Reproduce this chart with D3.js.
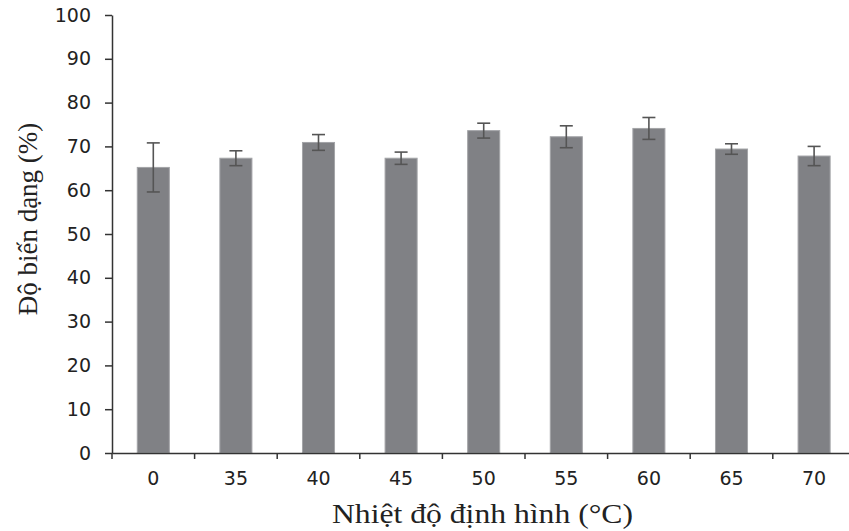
<!DOCTYPE html>
<meta charset="utf-8">
<style>
body { margin: 0; background: #fff; }
.axis .domain, .axis .tick line { stroke: #333; stroke-width: 1.5; }
.axis text { font-family: "DejaVu Sans", sans-serif; font-size: 19px; fill: #222; }
.title { font-family: "Liberation Serif", "Times New Roman", serif; font-size: 27px; fill: #222; }
</style>
<body>
<script src="https://d3js.org/d3.v7.min.js"></script>
<script>

// temperature categories (°C)
var categories = ["0", "35", "40", "45", "50", "55", "60", "65", "70"];
// mean deformation (%)
var means = [65.2, 67.3, 70.9, 67.3, 73.6, 72.2, 74.1, 69.4, 67.8];
// error (+/-)
var errs = [5.6, 1.7, 1.8, 1.4, 1.7, 2.5, 2.5, 1.2, 2.2];
var yTicks = [0, 10, 20, 30, 40, 50, 60, 70, 80, 90, 100];

var width = 849, height = 531;
var x0 = 112, step = 82.6;

var svg = d3.select("body").append("svg")
    .attr("width", width)
    .attr("height", height);

var x = d3.scaleBand()
    .domain(categories)
    .range([x0, x0 + step * categories.length])
    .paddingInner(0.612)
    .paddingOuter(0.306);

var y = d3.scaleLinear()
    .domain([0, 100])
    .range([453, 15]);

// bars
svg.append("g").selectAll("rect")
    .data(categories)
  .enter().append("rect")
    .attr("x", function(d) { return x(d); })
    .attr("y", function(d, i) { return y(means[i]); })
    .attr("width", x.bandwidth())
    .attr("height", function(d, i) { return y(0) - y(means[i]); })
    .attr("fill", "#808185")
    .attr("stroke", "#a3a4a7")
    .attr("stroke-width", 1);

// error bars
var eb = svg.append("g").attr("stroke", "#555").attr("stroke-width", 1.6);
categories.forEach(function(d, i) {
  var cx = x(d) + x.bandwidth() / 2, hw = 6.5;
  eb.append("line").attr("x1", cx).attr("x2", cx)
    .attr("y1", y(means[i] + errs[i])).attr("y2", y(means[i] - errs[i]));
  eb.append("line").attr("x1", cx - hw).attr("x2", cx + hw)
    .attr("y1", y(means[i] + errs[i])).attr("y2", y(means[i] + errs[i]));
  eb.append("line").attr("x1", cx - hw).attr("x2", cx + hw)
    .attr("y1", y(means[i] - errs[i])).attr("y2", y(means[i] - errs[i]));
});

// y axis
svg.append("g")
    .attr("class", "axis")
    .attr("transform", "translate(" + x0 + ",0)")
    .call(d3.axisLeft(y).tickValues(yTicks).tickSize(7).tickSizeOuter(0).tickPadding(14));

// x axis (ticks at category boundaries)
var xa = svg.append("g")
    .attr("class", "axis")
    .attr("transform", "translate(0," + y(0) + ")")
    .call(d3.axisBottom(x).tickSize(0).tickSizeOuter(0).tickPadding(19));

xa.selectAll(".bound")
    .data(d3.range(categories.length + 1))
  .enter().append("line")
    .attr("stroke", "#333").attr("stroke-width", 1.5)
    .attr("x1", function(i) { return x0 + i * step; })
    .attr("x2", function(i) { return x0 + i * step; })
    .attr("y1", 0).attr("y2", 6);

// titles
svg.append("text")
    .attr("class", "title")
    .attr("x", 332).attr("y", 523)
    .attr("textLength", 301)
    .attr("lengthAdjust", "spacingAndGlyphs")
    .text("Nhiệt độ định hình (°C)");

svg.append("text")
    .attr("class", "title")
    .attr("transform", "translate(37,219) rotate(-90)")
    .attr("text-anchor", "middle")
    .text("Độ biến dạng (%)");

</script>
